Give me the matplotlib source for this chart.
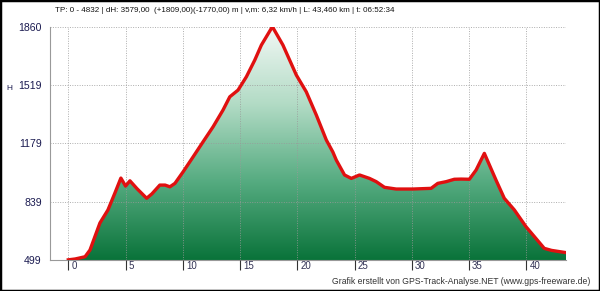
import matplotlib.pyplot as plt
import matplotlib
import numpy as np
from matplotlib.colors import LinearSegmentedColormap
from matplotlib.patches import Rectangle

matplotlib.rc("font", family=["Liberation Sans", "DejaVu Sans"])

# Distanz (km) und Höhe (m)
km = [0.0, 0.6, 1.46, 1.89, 2.76, 3.46, 4.07, 4.59, 5.0, 5.38, 6.0, 6.84, 7.3, 7.99,
      8.45, 8.87, 9.31, 10.03, 10.9, 11.77, 12.64, 13.51, 14.1, 14.82, 15.55, 16.28,
      16.86, 17.82, 18.74, 19.91, 20.78, 21.66, 22.53, 23.1, 23.4, 24.12, 24.71,
      25.43, 26.3, 26.89, 27.61, 28.63, 30.08, 31.68, 32.26, 32.99, 33.71, 34.3,
      35.02, 35.61, 36.33, 37.35, 38.07, 38.95, 39.97, 41.56, 42.2, 43.46]
hoehe = [500, 505, 518, 557, 715, 791, 890, 977, 930, 961, 915, 859, 885, 936,
         936, 926, 946, 1014, 1101, 1189, 1276, 1374, 1451, 1490, 1568, 1665,
         1753, 1860, 1753, 1578, 1480, 1344, 1199, 1129, 1082, 995, 975,
         995, 975, 956, 923, 913, 913, 917, 946, 956, 970, 971,
         970, 1024, 1121, 965, 859, 791, 693, 567, 555, 542]

yticks = [499, 839, 1179, 1519, 1860]
xticks = [0, 5, 10, 15, 20, 25, 30, 35, 40]

titel = ("TP: 0 - 4832 | dH: 3579,00  (+1809,00)(-1770,00) m | v,m: 6,32 km/h "
         "| L: 43,460 km | t: 06:52:34")
fuss = "Grafik erstellt von GPS-Track-Analyse.NET (www.gps-freeware.de)"

fig = plt.figure(figsize=(6, 2.91), dpi=100)
ax = fig.add_axes([50 / 600, 1 - 260 / 291, 516 / 600, 233.3 / 291])
ax.set_xlim(-1.6, 43.46)
ax.set_ylim(499, 1860)

# Farbverlauf unter der Kurve
cmap = LinearSegmentedColormap.from_list(
    "gruen", ["#0a733a", "#55ab80", "#b2dbc5", "#f2f8f5"])
grad = np.linspace(0, 1, 256).reshape(-1, 1)
img = ax.imshow(grad, cmap=cmap, origin="lower", aspect="auto",
                extent=[-1.6, 43.46, 499, 1860], zorder=1)
poly = ax.fill_between(km, hoehe, 499, color="none", lw=0)
clip = poly.get_paths()[0]
img.set_clip_path(clip, transform=ax.transData)

ax.plot(km, hoehe, color="#e01010", lw=2.4, solid_joinstyle="round", zorder=4)

ax.set_xticks(xticks)
ax.set_yticks(yticks)
ax.set_xticklabels([str(v) for v in xticks], ha="left", fontsize=7, color="#333355")
ax.set_yticklabels([str(v) for v in yticks], fontsize=7.6, color="#1a1a50")
ax.tick_params(axis="x", direction="out", length=7, width=0.8, color="#333333", pad=-6)
for lbl in ax.get_xticklabels():
    lbl.set_transform(lbl.get_transform() + matplotlib.transforms.ScaledTranslation(3 / 100, 0, fig.dpi_scale_trans))
ax.tick_params(axis="y", length=0, pad=6)

ax.grid(True, linestyle=(0, (1, 1.5)), color="#999999", lw=0.7, alpha=0.8, zorder=3)
ax.set_axisbelow(False)
for s in ["top", "right"]:
    ax.spines[s].set_visible(False)
for s in ["left", "bottom"]:
    ax.spines[s].set_color("#999999")
    ax.spines[s].set_linewidth(0.8)

fig.text(6 / 600, 1 - 89 / 291, "H", fontsize=6, color="#1a1a50", va="center")
fig.text(55 / 600, 1 - 10 / 291, titel, fontsize=5.8, color="#111111", va="center")
fig.text(590 / 600, 1 - 281 / 291, fuss, fontsize=6.25, color="#333333",
         ha="right", va="center")

fig.patches.append(Rectangle((0, 0), 1, 1, transform=fig.transFigure,
                             fill=False, ec="black", lw=2.5))

plt.savefig("out.png", dpi=100)
